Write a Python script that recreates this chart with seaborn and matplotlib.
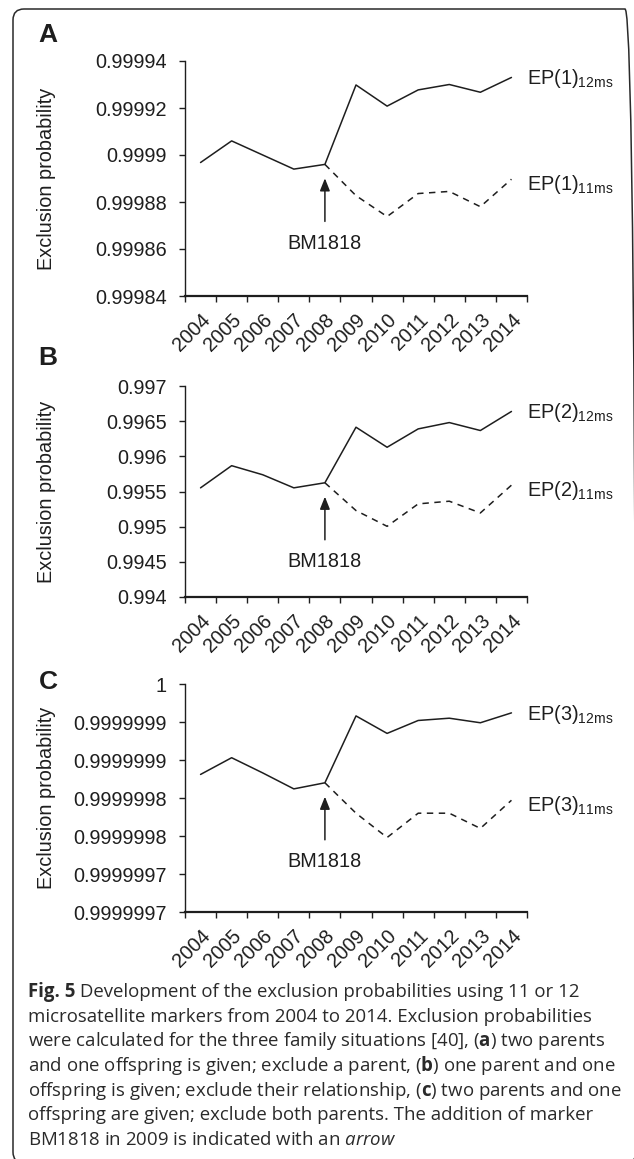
import numpy as np
import pandas as pd
import seaborn as sns
import matplotlib
matplotlib.use("Agg")
import matplotlib.pyplot as plt
from matplotlib.patches import FancyBboxPatch
from matplotlib.transforms import IdentityTransform
from matplotlib.ticker import FixedLocator, NullFormatter

# ---------------- data ----------------
years = [2004, 2005, 2006, 2007, 2008, 2009, 2010, 2011, 2012, 2013, 2014]
years_11 = [2008, 2009, 2010, 2011, 2012, 2013, 2014]

ep1_12ms = [0.9998968, 0.9999060, 0.9999000, 0.9998940, 0.9998960, 0.9999298,
            0.9999208, 0.9999277, 0.9999300, 0.9999267, 0.9999330]
ep1_11ms = [0.9998960, 0.9998827, 0.9998738, 0.9998836, 0.9998845, 0.9998780, 0.9998897]

ep2_12ms = [0.995552, 0.995867, 0.995738, 0.995552, 0.995624, 0.996414,
            0.996129, 0.996390, 0.996480, 0.996367, 0.996638]
ep2_11ms = [0.995624, 0.995229, 0.995005, 0.995324, 0.995362, 0.995195, 0.995590]

ep3_12ms = [0.999999881, 0.999999903, 0.999999883, 0.999999862, 0.999999870, 0.999999958,
            0.999999935, 0.999999952, 0.999999955, 0.999999949, 0.999999962]
ep3_11ms = [0.999999870, 0.999999830, 0.999999798, 0.999999830, 0.999999830, 0.999999810, 0.999999847]

ticks_a = [0.99984, 0.99986, 0.99988, 0.99990, 0.99992, 0.99994]
labels_a = ["0.99984", "0.99986", "0.99988", "0.9999", "0.99992", "0.99994"]
ticks_b = [0.9940, 0.9945, 0.9950, 0.9955, 0.9960, 0.9965, 0.9970]
labels_b = ["0.994", "0.9945", "0.995", "0.9955", "0.996", "0.9965", "0.997"]
ticks_c = [0.9999997, 0.99999975, 0.9999998, 0.99999985, 0.9999999, 0.99999995, 1.0]
labels_c = ["0.9999997", "0.9999997", "0.9999998", "0.9999998", "0.9999999", "0.9999999", "1"]

panel_letters = ["A", "B", "C"]
series_names = ["EP(1)", "EP(2)", "EP(3)"]
marker_name = "BM1818"
ylabel_text = "Exclusion probability"

caption_title = "Fig. 5"
caption_lines = [
    " Development of the exclusion probabilities using 11 or 12",
    "microsatellite markers from 2004 to 2014. Exclusion probabilities",
    r"were calculated for the three family situations [40], ($\mathbf{a}$) two parents",
    r"and one offspring is given; exclude a parent, ($\mathbf{b}$) one parent and one",
    r"offspring is given; exclude their relationship, ($\mathbf{c}$) two parents and one",
    "offspring are given; exclude both parents. The addition of marker",
    r"BM1818 in 2009 is indicated with an $\mathit{arrow}$",
]

# ---------------- style ----------------
sns.set_theme(style="ticks")
plt.rcParams["font.family"] = ["Liberation Sans", "DejaVu Sans"]
plt.rcParams["mathtext.fontset"] = "custom"
plt.rcParams["mathtext.rm"] = "Open Sans"
plt.rcParams["mathtext.bf"] = "Open Sans:bold"
plt.rcParams["mathtext.it"] = "Open Sans:italic"

W, H = 634, 1159
fig = plt.figure(figsize=(W / 100, H / 100), dpi=100)
fig.patch.set_facecolor("white")

INK = "#1e1e1e"
FS = 14.3


def px_axes(left, right, top, bottom):
    return fig.add_axes([left / W, 1 - bottom / H, (right - left) / W, (bottom - top) / H])


panels = [
    (ep1_12ms, ep1_11ms, ticks_a, labels_a, 61, 296, 35),
    (ep2_12ms, ep2_11ms, ticks_b, labels_b, 386, 597, 358),
    (ep3_12ms, ep3_11ms, ticks_c, labels_c, 684, 912, 682),
]

idx = np.arange(len(years))
idx11 = np.array([years.index(y) for y in years_11])

for k, (v12, v11, tks, tls, top, bot, ly) in enumerate(panels):
    ax = px_axes(185, 527, top, bot)
    df12 = pd.DataFrame({"x": idx, "y": v12})
    df11 = pd.DataFrame({"x": idx11, "y": v11})
    sns.lineplot(data=df12, x="x", y="y", ax=ax, color=INK, lw=1.1)
    sns.lineplot(data=df11, x="x", y="y", ax=ax, color=INK, lw=1.1,
                 linestyle=(0, (4.2, 3.6)))

    ax.set_xlim(-0.5, len(years) - 0.5)
    ax.set_ylim(tks[0], tks[-1])
    ax.yaxis.set_major_locator(FixedLocator(tks))
    ax.set_yticklabels(tls)
    ax.xaxis.set_major_locator(FixedLocator(np.arange(-0.5, len(years), 1.0)))
    ax.xaxis.set_major_formatter(NullFormatter())
    ax.xaxis.set_minor_locator(FixedLocator(idx))
    ax.set_xticklabels([str(y) for y in years], minor=True, rotation=45,
                       ha="right", va="top", rotation_mode="anchor")
    ax.tick_params(axis="x", which="major", length=4.5, width=1.0, color=INK, direction="out")
    ax.tick_params(axis="x", which="minor", length=0, pad=10, labelsize=FS, labelcolor=INK)
    ax.tick_params(axis="y", which="major", length=4.5, width=1.0, color=INK, direction="out",
                   pad=8.5, labelsize=FS, labelcolor=INK)
    sns.despine(ax=ax)
    ax.spines["left"].set_color(INK)
    ax.spines["left"].set_linewidth(1.0)
    ax.spines["bottom"].set_color(INK)
    ax.spines["bottom"].set_linewidth(1.6)
    ax.set_xlabel("")
    ax.set_ylabel(ylabel_text, fontsize=FS, color=INK)
    ax.yaxis.set_label_coords(-0.378, 0.5)
    ax.patch.set_alpha(0)

    # series labels
    ax.annotate(series_names[k] + r"$_{\mathregular{12ms}}$", xy=(idx[-1], v12[-1]),
                xytext=(16, -7), textcoords="offset pixels", ha="left", va="baseline",
                fontsize=FS, color=INK, annotation_clip=False)
    ax.annotate(series_names[k] + r"$_{\mathregular{11ms}}$", xy=(idx11[-1], v11[-1]),
                xytext=(16, -11), textcoords="offset pixels", ha="left", va="baseline",
                fontsize=FS, color=INK, annotation_clip=False)

    # marker arrow
    i08 = years.index(2008)
    ax.annotate("", xy=(i08, v12[i08]), xytext=(0, -57), textcoords="offset pixels",
                arrowprops=dict(arrowstyle="-|>,head_length=0.75,head_width=0.3",
                                color=INK, lw=1.1, shrinkA=0, shrinkB=10, mutation_scale=10))
    ax.annotate(marker_name, xy=(i08, v12[i08]), xytext=(0, -79), textcoords="offset pixels",
                ha="center", va="center", fontsize=FS, color=INK)

    fig.text(48 / W, 1 - ly / H, panel_letters[k], ha="center", va="center",
             fontsize=19, fontweight="bold", color=INK)

# caption
base_y = 997
CAP_FS = 13.4
CAP_COL = "#2a2a2a"
renderer = fig.canvas.get_renderer()
title = fig.text(28 / W, 1 - base_y / H, caption_title, ha="left", va="baseline",
                 fontsize=CAP_FS, family="Open Sans", fontweight="bold", color=CAP_COL)
tw = title.get_window_extent(renderer=renderer).width
for i, line in enumerate(caption_lines):
    x0 = 28 + (tw if i == 0 else 0)
    fig.text(x0 / W, 1 - (base_y + 24.7 * i) / H, line, ha="left", va="baseline",
             fontsize=CAP_FS, family="Open Sans", color=CAP_COL)

# rounded frame
frame = FancyBboxPatch((13, -4), 623, H - 9 + 4, boxstyle="round,pad=0,rounding_size=11",
                       transform=IdentityTransform(), fill=False, ec="#2a2a2a", lw=1.1)
fig.add_artist(frame)

fig.savefig("out.png", dpi=100)
